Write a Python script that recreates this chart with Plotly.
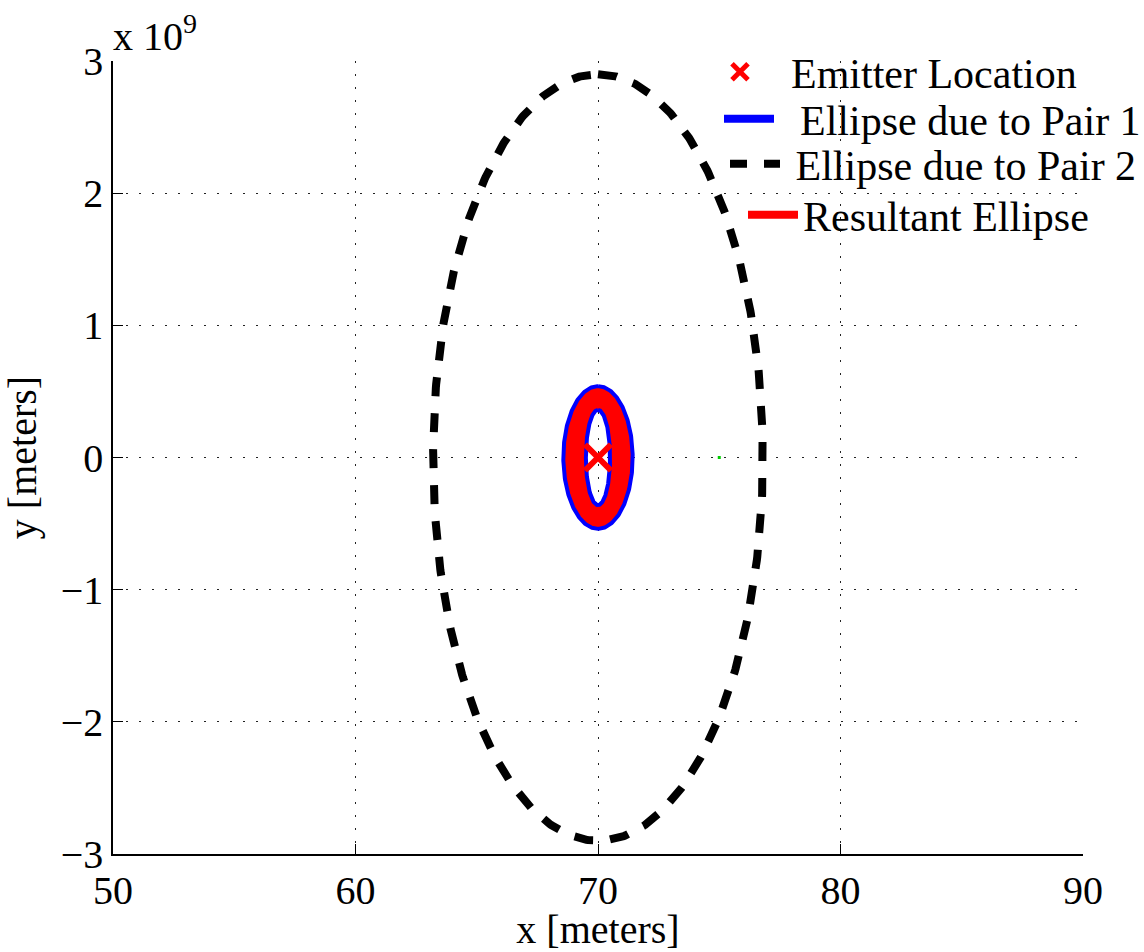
import numpy as np
import plotly.graph_objects as go

# ---- data ----
emitter_x = [70.0]
emitter_y = [0.0]
receiver_x = [75.0]
receiver_y = [0.0]

# ellipse parameters: [center_x, center_y, semi_axis_x, semi_axis_y]
pair1_outer = [70.0, 0.0, 1.43, 0.54e9]
pair1_inner = [70.0, 0.0, 0.50, 0.36e9]
pair2 = [70.0, 0.0, 6.8, 2.9e9]

x_ticks = [50, 60, 70, 80, 90]
y_ticks = [-3e9, -2e9, -1e9, 0, 1e9, 2e9, 3e9]
y_tick_text = ["\u22123", "\u22122", "\u22121", "0", "1", "2", "3"]

legend_names = ["Emitter Location", "Ellipse due to Pair 1",
                "Ellipse due to Pair 2", "Resultant Ellipse"]

FONT = "Liberation Serif"
NB = "\u00a0"


def ellipse(p, n=361, reverse=False):
    t = np.linspace(0, 2 * np.pi, n)
    if reverse:
        t = t[::-1]
    return p[0] + p[2] * np.sin(t), p[1] + p[3] * np.cos(t)


fig = go.Figure()

# red resultant ring (outer minus inner)
ox, oy = ellipse(pair1_outer)
ix, iy = ellipse(pair1_inner, reverse=True)
ring_x = np.concatenate([ox, ix, [ox[0]]])
ring_y = np.concatenate([oy, iy, [oy[0]]])
fig.add_trace(go.Scatter(x=ring_x, y=ring_y, mode="lines", fill="toself",
                         fillcolor="#ff0000", line=dict(width=0, color="#ff0000"),
                         showlegend=False, hoverinfo="skip"))

# blue ellipses (pair 1)
bx = np.concatenate([ox, [None], ix])
by = np.concatenate([oy, [None], iy])
fig.add_trace(go.Scatter(x=bx, y=by, mode="lines", showlegend=False,
                         line=dict(color="#0000ff", width=4)))

# black dashed ellipse (pair 2)
px2, py2 = ellipse(pair2, n=721)
fig.add_trace(go.Scatter(x=px2, y=py2, mode="lines", showlegend=False,
                         line=dict(color="#000000", width=8, dash="19px,17px")))

# small green receiver mark
fig.add_trace(go.Scatter(x=receiver_x, y=receiver_y, mode="markers",
                         marker=dict(color="#00cc00", size=3, symbol="square"),
                         showlegend=False))

# emitter
fig.add_trace(go.Scatter(x=emitter_x, y=emitter_y, mode="markers", showlegend=False,
                         marker=dict(symbol="x-thin", size=26,
                                     line=dict(color="#ff0000", width=6), color="#ff0000")))

# legend entries (each in its own legend box for exact placement)
fig.add_trace(go.Scatter(x=[None], y=[None], mode="markers", name=NB * 2 + legend_names[0],
                         marker=dict(symbol="x-thin", size=24,
                                     line=dict(color="#ff0000", width=6), color="#ff0000"),
                         legend="legend"))
fig.add_trace(go.Scatter(x=[None], y=[None], mode="lines", name=NB * 2 + legend_names[1],
                         line=dict(color="#0000ff", width=8), legend="legend2"))
fig.add_trace(go.Scatter(x=[None], y=[None], mode="lines", name=NB + legend_names[2],
                         line=dict(color="#000000", width=8, dash="17px,17px"),
                         legend="legend3"))
fig.add_trace(go.Scatter(x=[None], y=[None], mode="lines", name=legend_names[3],
                         line=dict(color="#ff0000", width=8), legend="legend4"))

axis_common = dict(
    showline=True, linecolor="black", linewidth=1.5, mirror=False,
    ticks="inside", ticklen=10, tickcolor="black", tickwidth=1,
    showgrid=True, gridcolor="#222222", gridwidth=1, griddash="1.5px,11.5px",
    zeroline=False, tickfont=dict(family=FONT, size=40, color="black"),
    automargin=False,
)

fig.update_xaxes(range=[50, 90], tickvals=x_ticks, ticktext=[str(v) for v in x_ticks],
                 title=dict(text="x [meters]", font=dict(family=FONT, size=40, color="black"),
                            standoff=2),
                 **axis_common)
fig.update_yaxes(range=[-3e9, 3e9], tickvals=y_ticks, ticktext=y_tick_text,
                 title=dict(text="y [meters]", font=dict(family=FONT, size=40, color="black"),
                            standoff=12),
                 **axis_common)

fig.add_annotation(text="x 10<sup>9</sup>", xref="paper", yref="paper", x=0, y=1.0,
                   xanchor="left", yanchor="bottom", showarrow=False, xshift=-2,
                   font=dict(family=FONT, size=40, color="black"))

PLOT_L, PLOT_W, PLOT_B, PLOT_H = 113, 970, 854, 793


def lg(left_px, center_px):
    return dict(x=(left_px - PLOT_L) / PLOT_W, y=(PLOT_B - center_px) / PLOT_H,
                xanchor="left", yanchor="middle", bgcolor="rgba(0,0,0,0)", borderwidth=0,
                font=dict(family=FONT, size=42, color="black"), itemwidth=50)


fig.update_layout(
    width=1144, height=952,
    margin=dict(l=113, r=61, t=61, b=98, autoexpand=False),
    paper_bgcolor="white", plot_bgcolor="white",
    font=dict(family=FONT, size=40, color="black"),
    showlegend=True,
    legend=lg(710, 72),
    legend2=lg(719, 119),
    legend3=lg(725, 164),
    legend4=lg(743, 215),
)

fig.write_html("out.html")
